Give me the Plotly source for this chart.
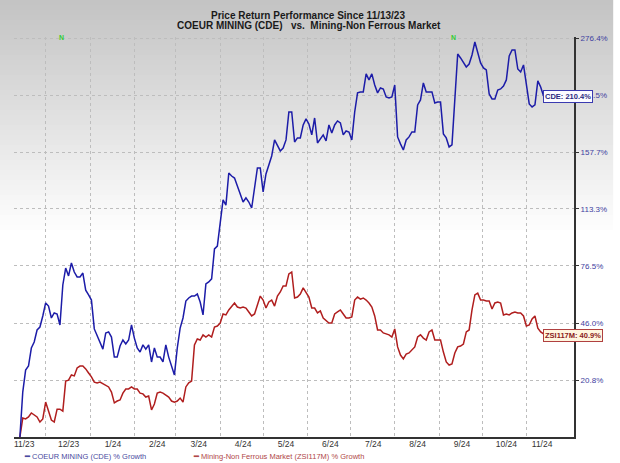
import numpy as np
import pandas as pd
import plotly.graph_objects as go

# % growth since 11/13/23, read every 2 days off the chart
dates = pd.date_range("2023-11-13", periods=184, freq="2D")

cde_pct = [
    0.0, 16.1, 24.9, 26.6, 34.4, 37.1, 42.7, 44.1, 49.5, 56.1,
    54.5, 48.5, 51.0, 50.5, 45.1, 65.7, 75.3, 70.8, 78.3, 73.0,
    70.2, 70.2, 72.4, 62.9, 60.3, 57.6, 43.2, 39.9, 37.1, 33.9,
    41.3, 41.8, 39.4, 30.4, 30.4, 35.3, 38.0, 36.2, 38.0, 45.1,
    38.9, 34.4, 32.6, 35.8, 33.9, 35.8, 28.3, 34.4, 30.4, 30.4,
    28.3, 35.8, 30.4, 26.6, 22.9, 34.4, 43.6, 48.5, 57.1, 58.7,
    59.7, 59.7, 60.8, 56.6, 50.0, 66.3, 67.4, 69.1, 86.8, 88.6,
    105.7, 119.8, 116.1, 140.4, 138.0, 136.4, 130.3, 123.5, 118.3, 121.3,
    118.3, 114.0, 127.2, 144.5, 144.5, 125.7, 139.6, 147.7, 154.4, 168.3,
    163.0, 158.7, 161.2, 168.3, 194.4, 194.4, 166.5, 170.1, 170.1, 182.0,
    187.7, 182.9, 172.8, 188.6, 165.6, 169.2, 172.8, 167.4, 182.0, 174.6,
    182.0, 185.8, 183.9, 172.8, 176.4, 175.5, 168.3, 194.4, 213.7, 214.7,
    214.7, 234.1, 227.5, 234.1, 222.0, 213.7, 218.9, 217.8, 209.5, 208.5,
    209.5, 222.0, 171.0, 164.8, 159.5, 168.3, 171.0, 175.5, 175.5, 201.4,
    206.4, 224.2, 214.7, 214.7, 214.7, 203.4, 204.4, 204.4, 173.7, 170.1,
    162.1, 163.9, 206.4, 257.0, 252.3, 247.6, 241.9, 245.3, 255.8, 271.5,
    259.4, 246.5, 240.8, 238.5, 212.6, 207.4, 207.4, 216.7, 217.8, 221.0,
    227.5, 254.7, 261.8, 261.8, 239.6, 236.3, 244.2, 222.0, 202.4, 199.4,
    201.4, 226.4, 219.9, 210.4,
]

zsi_pct = [
    0.0, 6.5, 6.2, 6.9, 8.3, 7.6, 6.9, 5.1, 6.2, 12.3,
    9.0, 5.8, 5.1, 9.7, 9.7, 9.0, 20.4, 20.8, 22.9, 22.5,
    25.8, 26.6, 26.6, 25.4, 23.7, 22.1, 20.0, 19.7, 20.0, 19.3,
    18.9, 18.1, 16.1, 12.0, 12.7, 13.1, 15.7, 17.3, 17.3, 18.1,
    17.3, 17.3, 15.7, 15.4, 14.2, 14.6, 9.4, 11.6, 15.7, 16.1,
    15.7, 15.0, 14.2, 12.7, 12.3, 12.7, 13.8, 12.3, 18.1, 19.7,
    20.4, 35.8, 38.5, 38.0, 40.4, 39.4, 40.4, 39.4, 44.1, 44.6,
    46.0, 50.5, 50.0, 52.5, 54.5, 56.1, 54.0, 53.5, 54.0, 53.5,
    51.5, 49.5, 50.5, 55.5, 59.7, 57.6, 53.5, 56.6, 57.6, 54.5,
    59.7, 61.9, 65.2, 65.2, 71.9, 73.0, 58.7, 59.2, 60.8, 64.1,
    61.9, 59.2, 53.5, 53.5, 51.0, 52.0, 48.5, 47.0, 46.0, 46.0,
    50.5, 51.5, 52.5, 50.5, 48.5, 48.5, 49.0, 57.6, 59.2, 58.1,
    58.7, 57.6, 56.1, 54.0, 49.5, 42.7, 42.7, 41.3, 40.8, 40.4,
    39.4, 43.2, 34.9, 31.3, 29.6, 31.7, 32.2, 33.5, 34.9, 39.4,
    40.4, 38.9, 38.0, 41.8, 42.7, 38.0, 38.0, 38.0, 32.6, 28.3,
    27.0, 27.5, 32.2, 34.9, 35.3, 36.2, 41.8, 42.7, 52.5, 60.3,
    61.3, 57.6, 57.6, 57.1, 57.1, 53.0, 56.1, 56.6, 56.1, 50.0,
    50.5, 50.0, 51.0, 51.5, 51.0, 51.0, 49.5, 44.6, 45.1, 48.0,
    49.5, 43.6, 41.8, 40.9,
]

y_ticks = [20.8, 46.0, 76.5, 113.3, 157.7, 211.5, 276.4]
month_labels = ["11/23", "12/23", "1/24", "2/24", "3/24", "4/24", "5/24",
                "6/24", "7/24", "8/24", "9/24", "10/24", "11/24"]
label_dates = ["2023-11-16", "2023-12-17", "2024-01-17", "2024-02-17", "2024-03-17",
               "2024-04-17", "2024-05-17", "2024-06-17", "2024-07-17", "2024-08-17",
               "2024-09-17", "2024-10-18", "2024-11-12"]
month_starts = pd.date_range("2023-12-01", "2024-11-01", freq="MS")
n_dates = ["2023-12-12", "2024-09-11"]

BLUE = "#1c1ca8"
RED = "#b01e1e"
GRID = "#bdbdbd"
FONT = "Liberation Sans, Arial, sans-serif"


def growth(p):
    return [1 + v / 100 for v in p]


fig = go.Figure()
fig.add_trace(go.Scatter(x=dates, y=growth(zsi_pct), mode="lines",
                         line=dict(color=RED, width=1.5), name="ZSI117M"))
fig.add_trace(go.Scatter(x=dates, y=growth(cde_pct), mode="lines",
                         line=dict(color=BLUE, width=1.5), name="CDE"))

# gray-to-white background gradient
shapes = []
H = 400.0
for k in range(46):
    top, bot = k * 5, k * 5 + 5
    g = int(196 + (255 - 196) * (top / 230))
    shapes.append(dict(type="rect", xref="paper", yref="paper", layer="below",
                       x0=-0.03, x1=1.07, y0=(437 - bot) / H, y1=(437 - top) / H,
                       fillcolor="rgb(%d,%d,%d)" % (g, g, g), line=dict(width=0)))

annotations = [
    dict(text="<b>Price Return Performance Since 11/13/23</b>", xref="paper", yref="paper",
         x=0.525, y=1.0 + 22 / H, yanchor="middle", showarrow=False,
         font=dict(size=10, color="#1a1a1a")),
    dict(text="<b>COEUR MINING (CDE)   vs.  Mining-Non Ferrous Market</b>", xref="paper",
         yref="paper", x=0.527, y=1.0 + 11 / H, yanchor="middle", showarrow=False,
         font=dict(size=10, color="#1a1a1a")),
    dict(text="<b>CDE: %.1f%%</b>" % cde_pct[-1], xref="paper", x=(552 - 14) / 569.0,
         xanchor="left", yref="y", y=np.log10(1 + cde_pct[-1] / 100), yanchor="middle",
         showarrow=False, bgcolor="#fbfbff", bordercolor="#3a3ab0", borderwidth=1,
         borderpad=1, font=dict(size=7.5, color="#2a2a80")),
    dict(text="<b>ZSI117M: %.1f%%</b>" % zsi_pct[-1], xref="paper", x=(552 - 14) / 569.0,
         xanchor="left", yref="paper", y=(437 - 335) / H, yanchor="middle",
         showarrow=False, bgcolor="#fff6df", bordercolor="#b04040", borderwidth=1,
         borderpad=1, font=dict(size=7.5, color="#8a2020")),
    dict(text="<b>━</b> COEUR MINING (CDE) % Growth", xref="paper", yref="paper",
         x=(22 - 14) / 569.0, xanchor="left", y=-19 / H, yanchor="middle",
         showarrow=False, font=dict(size=7.5, color="#4a4aa0")),
    dict(text="<b>━</b> Mining-Non Ferrous Market (ZSI117M) % Growth", xref="paper",
         yref="paper", x=(194 - 14) / 569.0, xanchor="left", y=-19 / H, yanchor="middle",
         showarrow=False, font=dict(size=7.5, color="#b04848")),
]
for d in n_dates:
    annotations.append(dict(text="<b>N</b>", x=d, xref="x", yref="paper", y=1.0,
                            yanchor="middle", showarrow=False,
                            font=dict(size=7, color="#33cc33")))

fig.update_layout(
    width=620, height=463,
    margin=dict(l=14, r=37, t=37, b=26),
    paper_bgcolor="white", plot_bgcolor="rgba(0,0,0,0)",
    font=dict(family=FONT),
    showlegend=False,
    shapes=shapes,
    annotations=annotations,
)
fig.update_xaxes(
    type="date", range=["2023-11-08 21:00", "2024-12-04 07:00"],
    tickvals=label_dates, ticktext=month_labels, showgrid=False, ticks="",
    tickfont=dict(size=8.5, color="#333333"), ticklabelstandoff=-2,
    showline=True, linecolor="#333333", linewidth=2,
    minor=dict(tickvals=list(month_starts), showgrid=True, gridcolor=GRID,
               griddash="dot", gridwidth=1, ticks=""),
    zeroline=False,
)
fig.update_yaxes(
    type="log", side="right", range=[0, np.log10(3.777)],
    tickvals=growth(y_ticks), ticktext=["%.1f%%" % v for v in y_ticks],
    tickfont=dict(size=8, color="#4040a0"),
    ticks="outside", ticklen=3, tickcolor="#333333",
    showgrid=True, gridcolor=GRID, griddash="dot", gridwidth=1,
    showline=True, linecolor="#333333", linewidth=2, zeroline=False,
)

fig.write_html("out.html", config={"displayModeBar": False},
               post_script="document.body.style.margin='0';document.body.style.overflow='hidden';")
